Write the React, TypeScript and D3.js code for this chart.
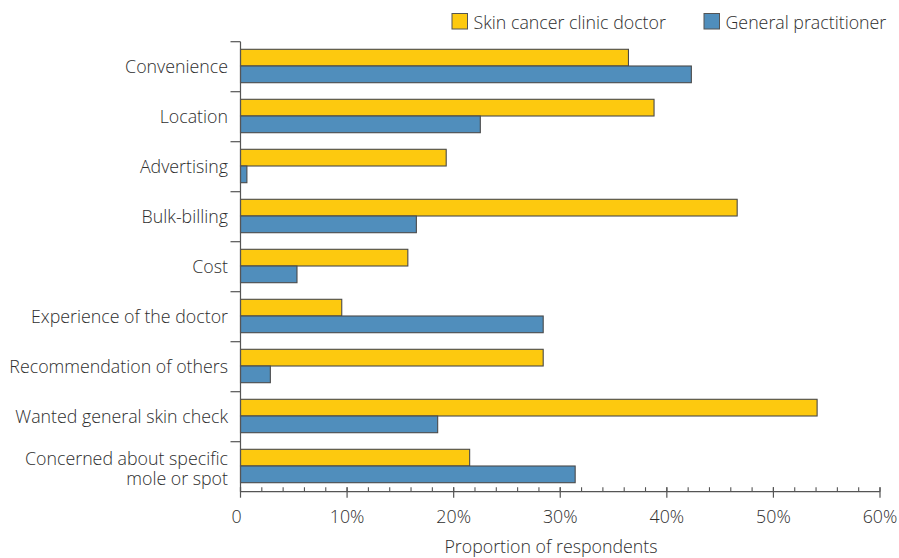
import React from "react";
import * as d3 from "d3";

const categories = [
  "Convenience",
  "Location",
  "Advertising",
  "Bulk-billing",
  "Cost",
  "Experience of the doctor",
  "Recommendation of others",
  "Wanted general skin check",
  "Concerned about specific\nmole or spot",
];
const seriesNames = ["Skin cancer clinic doctor", "General practitioner"];
const skinClinic = [36.4, 38.8, 19.3, 46.6, 15.7, 9.5, 28.4, 54.1, 21.5];
const generalPractitioner = [42.3, 22.5, 0.6, 16.5, 5.3, 28.4, 2.8, 18.5, 31.4];
const seriesColors = ["#FDC90F", "#508EBC"];
const xTicks = [0, 10, 20, 30, 40, 50, 60];
const xTitle = "Proportion of respondents";

const W = 899;
const H = 558;
const FONT = "'Open Sans', 'Noto Sans', sans-serif";
const TEXT = "#2e2e2e";
const FS = 17.8;

export default function App() {
  const x = d3.scaleLinear().domain([0, 60]).range([240.5, 880]);
  const y = d3.scaleBand().domain(categories).range([41.7, 491.7]).padding(0);
  const inner = d3.scaleBand().domain(seriesNames).range([7.6, 41]).padding(0);
  const values = [skinClinic, generalPractitioner];
  const minor = d3.range(0, 60.001, 2);
  const axisY = y.range()[1];

  return (
    <div style={{ position: "absolute", left: 0, top: 0 }}>
      <svg width={W} height={H} style={{ display: "block", background: "#fff" }} fontFamily={FONT} fontWeight={300}>
        {/* legend */}
        {seriesNames.map((s, i) => {
          const lx = i === 0 ? 452 : 704;
          return (
            <g key={s}>
              <rect x={lx} y={13.5} width={15.5} height={15.5} fill={seriesColors[i]} stroke="#555" strokeWidth={1} />
              <text x={lx + 21.5} y={28.5} fontSize={FS} fill={TEXT}>{s}</text>
            </g>
          );
        })}

        {/* bars */}
        {categories.map((c, ci) => (
          <g key={c} transform={`translate(0,${y(c)})`}>
            {seriesNames.map((s, si) => (
              <rect
                key={s}
                x={x(0)}
                y={inner(s)}
                width={x(values[si][ci]) - x(0)}
                height={inner.bandwidth()}
                fill={seriesColors[si]}
                stroke="#4a4a4a"
                strokeWidth={1.1}
              />
            ))}
          </g>
        ))}

        {/* y axis */}
        <line x1={x(0)} x2={x(0)} y1={y.range()[0]} y2={axisY} stroke="#555" strokeWidth={1.2} />
        {categories.map((c) => (
          <line key={c} x1={x(0) - 10} x2={x(0)} y1={y(c)} y2={y(c)} stroke="#555" strokeWidth={1.2} />
        ))}
        {categories.map((c) => {
          const lines = c.split("\n");
          const multi = lines.length > 1;
          const cy = (y(c) as number) + y.bandwidth() / 2 + (multi ? 2 : 0);
          const lh = 20.5;
          return (
            <text key={c} x={228} textAnchor="end" fontSize={FS} fill={TEXT}>
              {lines.map((l, li) => (
                <tspan key={li} x={228} y={cy - ((lines.length - 1) * lh) / 2 + li * lh} dy="0.35em">
                  {l}
                </tspan>
              ))}
            </text>
          );
        })}

        {/* x axis */}
        <line x1={x(0)} x2={x(60)} y1={axisY} y2={axisY} stroke="#555" strokeWidth={1.2} />
        {minor.map((m) => (
          <line key={m} x1={x(m)} x2={x(m)} y1={axisY - 4.5} y2={axisY} stroke="#555" strokeWidth={1.1} />
        ))}
        {xTicks.map((t) => (
          <g key={t}>
            <line x1={x(t)} x2={x(t)} y1={axisY - 4.5} y2={axisY + 6} stroke="#555" strokeWidth={1.2} />
            <text x={x(t) - (t === 0 ? 4 : 0)} y={axisY + 31.5} textAnchor="middle" fontSize={FS} fill={TEXT}>
              {t === 0 ? "0" : `${t}%`}
            </text>
          </g>
        ))}
        <text x={551} y={553} textAnchor="middle" fontSize={FS} fill={TEXT}>{xTitle}</text>
      </svg>
    </div>
  );
}
